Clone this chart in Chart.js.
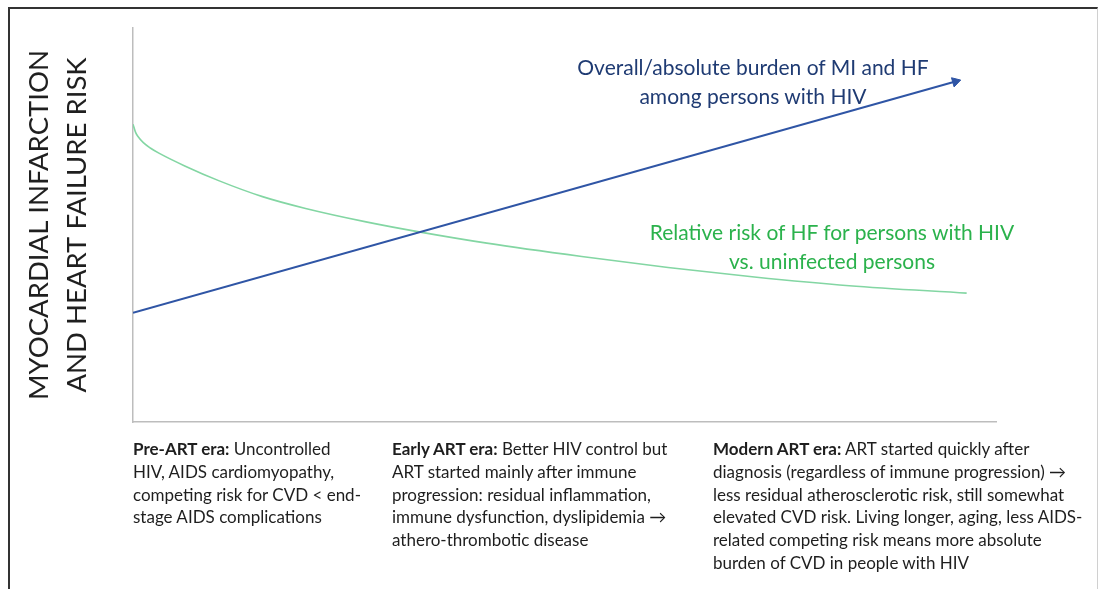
<!DOCTYPE html>
<html>
<head>
<meta charset="utf-8">
<script src="https://cdn.jsdelivr.net/npm/chart.js@4"></script>
<style>
  html, body { margin: 0; padding: 0; background: #fff; }
  #wrap { position: relative; width: 1098px; height: 589px; overflow: hidden; font-family: Lato, "Open Sans", sans-serif; }
  #frame { position: absolute; left: 8px; top: 7px; width: 1087px; height: 600px;
           border-left: 2px solid #333; border-top: 2px solid #333; border-right: 1px solid #d0d0d0; }
  #chart { position: absolute; left: 0; top: 0; }
  .note { position: absolute; text-align: center; font-size: 21px; line-height: 29px; white-space: nowrap; }
  .cap { position: absolute; font-size: 17px; line-height: 22.8px; color: #1e1e1e; white-space: nowrap; }
  .cap b { font-weight: bold; }
</style>
</head>
<body>
<div id="wrap">
  <div id="frame"></div>
  <canvas id="chart" width="1098" height="589"></canvas>
  <div class="note" style="left:503px; top:52px; width:500px; color:#1f3b73;">Overall/absolute burden of MI and HF<br>among persons with HIV</div>
  <div class="note" style="left:582px; top:217px; width:500px; color:#2bb24c;">Relative risk of HF for persons with HIV<br>vs. uninfected persons</div>
  <div class="cap" style="left:133px; top:438px;"><b>Pre-ART era:</b> Uncontrolled<br>HIV, AIDS cardiomyopathy,<br>competing risk for CVD &lt; end-<br>stage AIDS complications</div>
  <div class="cap" style="left:392px; top:438px;"><b>Early ART era:</b> Better HIV control but<br>ART started mainly after immune<br>progression: residual inflammation,<br>immune dysfunction, dyslipidemia &rarr;<br>athero-thrombotic disease</div>
  <div class="cap" style="left:713px; top:438px;"><b>Modern ART era:</b> ART started quickly after<br>diagnosis (regardless of immune progression) &rarr;<br>less residual atherosclerotic risk, still somewhat<br>elevated CVD risk. Living longer, aging, less AIDS-<br>related competing risk means more absolute<br>burden of CVD in people with HIV</div>
</div>
<script>
  // era timeline (0 = pre-ART start, 100 = right end of axis)
  var burdenX = [0, 95.3];
  var burdenY = [27.7, 86.4];

  var relRiskX = [0, 0.3, 0.6, 1.2, 2, 3, 6, 10, 15, 20, 27, 33.3, 41, 52, 62, 72, 83, 96.6];
  var relRiskY = [75.6, 73.5, 72.4, 70.9, 69.55, 68.25, 65.0, 61.2, 57.2, 54.2, 50.8, 48.2, 45.4, 42.0, 39.2, 36.8, 34.6, 32.7];

  var yTitle = ["MYOCARDIAL INFARCTION", "AND HEART FAILURE RISK"];

  function toPoints(xs, ys) {
    return xs.map(function (x, i) { return { x: x, y: ys[i] }; });
  }

  new Chart(document.getElementById("chart"), {
    type: "line",
    data: {
      datasets: [
        {
          label: "Overall/absolute burden",
          data: toPoints(burdenX, burdenY),
          borderColor: "#2f55a5",
          backgroundColor: "#2f55a5",
          borderWidth: 2,
          pointStyle: "triangle",
          pointRadius: [0, 5.5],
          pointRotation: [0, 74],
          pointBorderWidth: 1,
          tension: 0
        },
        {
          label: "Relative risk of HF",
          data: toPoints(relRiskX, relRiskY),
          borderColor: "#83d6a3",
          borderWidth: 1.6,
          pointRadius: 0,
          cubicInterpolationMode: "monotone"
        }
      ]
    },
    options: {
      responsive: false,
      animation: false,
      events: [],
      layout: { padding: { top: 28, right: 102, bottom: 167, left: 0 } },
      plugins: { legend: { display: false }, tooltip: { enabled: false } },
      scales: {
        x: {
          type: "linear", min: 0, max: 100,
          grid: { display: false },
          ticks: { display: false },
          border: { color: "#bdbdbd", width: 1.5 },
          afterFit: function (s) { s.height = 0; }
        },
        y: {
          type: "linear", min: 0, max: 100,
          grid: { display: false },
          ticks: { display: false },
          border: { color: "#bdbdbd", width: 1.5 },
          title: {
            display: true,
            text: yTitle,
            color: "#1f1f1f",
            font: { family: "Lato", size: 27.5, weight: "normal", lineHeight: 1.35 },
            padding: { top: 21, bottom: 0 }
          },
          afterFit: function (s) { s.width = 133; }
        }
      }
    }
  });
</script>
</body>
</html>
